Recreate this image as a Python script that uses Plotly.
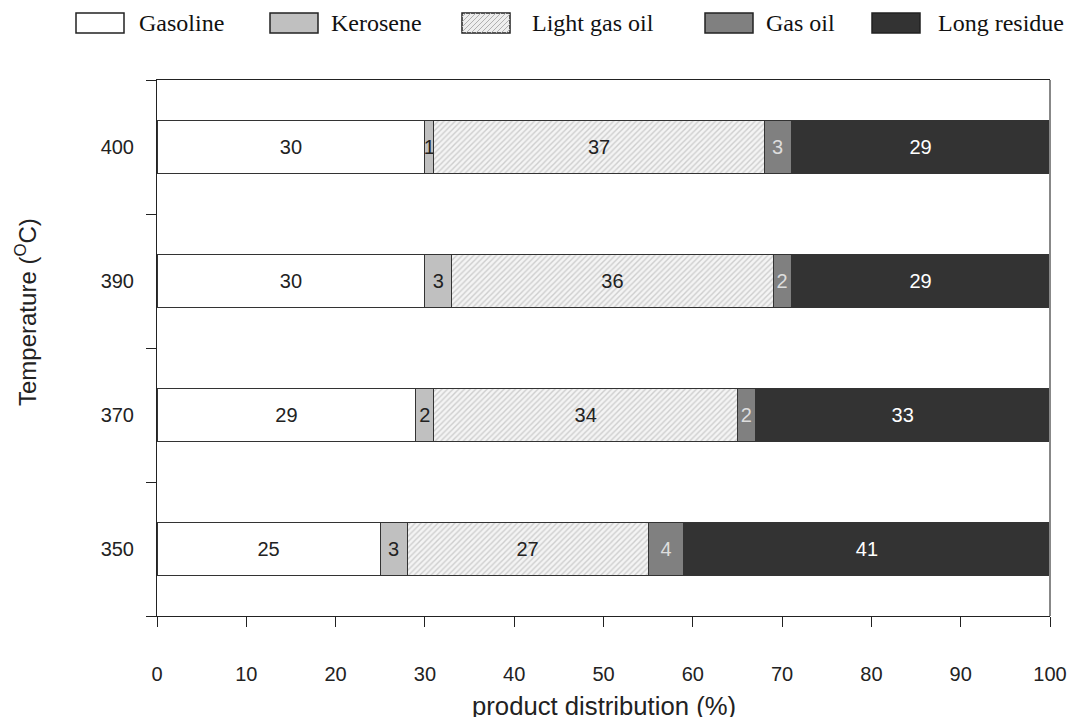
import plotly.graph_objects as go

temperatures = ["350", "370", "390", "400"]
products = ["Gasoline", "Kerosene", "Light gas oil", "Gas oil", "Long residue"]
gasoline = [25, 29, 30, 30]
kerosene = [3, 2, 3, 1]
light_gas_oil = [27, 34, 36, 37]
gas_oil = [4, 2, 2, 3]
long_residue = [41, 33, 29, 29]
x_ticks = [0, 10, 20, 30, 40, 50, 60, 70, 80, 90, 100]

series = [gasoline, kerosene, light_gas_oil, gas_oil, long_residue]
fills = ["#ffffff", "#c0c0c0", "#f2f2f2", "#808080", "#333333"]
text_colors = ["#222222", "#222222", "#222222", "#dddddd", "#ffffff"]

L, R, T, B = 157, 22, 80, 101
W, H = 1072, 717
PW, PH = W - L - R, H - T - B

def px(x):
    return (x - L) / PW

def py(y):
    return (T + PH - y) / PH

fig = go.Figure()
for name, vals, fc, tc in zip(products, series, fills, text_colors):
    marker = dict(color=fc, line=dict(color="#333333", width=1))
    if name == "Light gas oil":
        marker["pattern"] = dict(shape="/", fgcolor="#a8a8a8", bgcolor="#f4f4f4",
                                 size=4, solidity=0.35, fillmode="overlay")
    fig.add_trace(go.Bar(
        y=temperatures, x=vals, name=name, orientation="h",
        marker=marker, text=[str(v) for v in vals],
        textposition="inside", insidetextanchor="middle", textangle=0,
        constraintext="none",
        textfont=dict(family="Liberation Sans, Arial", size=20, color=tc),
        showlegend=False, hoverinfo="skip",
    ))

fig.update_layout(
    barmode="stack", bargap=0.6,
    width=W, height=H, autosize=False,
    margin=dict(l=L, r=R, t=T, b=B, pad=0, autoexpand=False),
    plot_bgcolor="white", paper_bgcolor="white",
    font=dict(family="Liberation Sans, Arial", color="#222222"),
)
fig.update_xaxes(
    range=[0, 100], tickvals=x_ticks, ticks="outside", ticklen=10,
    tickcolor="#222222", showline=True, linecolor="#222222", linewidth=1,
    mirror=True, showgrid=False, zeroline=False, automargin=False,
    tickfont=dict(size=20, color="#222222"), ticklabelstandoff=30,
)
fig.update_yaxes(
    categoryorder="array", categoryarray=temperatures,
    ticks="outside", ticklen=10, tickson="boundaries", tickcolor="#222222",
    showline=True, linecolor="#222222", linewidth=1, showgrid=False,
    automargin=False,
    tickfont=dict(size=20, color="#222222"), ticklabelstandoff=18,
)
# right border (grey)
fig.add_shape(type="line", xref="paper", yref="paper", x0=1, x1=1, y0=0, y1=1,
              line=dict(color="#888888", width=2))

# axis titles
fig.add_annotation(text="product distribution (%)", xref="paper", yref="paper",
                   x=0.5, y=py(706), showarrow=False, yanchor="middle",
                   font=dict(size=25.7, color="#222222"))
fig.add_annotation(text="Temperature (<sup>O</sup>C)", xref="paper", yref="paper",
                   x=px(26), y=py(312), showarrow=False, textangle=-90,
                   xanchor="center", yanchor="middle",
                   font=dict(size=24, color="#222222"))

# manual legend
box_x = [76, 270, 462, 705, 872]
txt_x = [137, 329, 530, 764, 936]
box_fill = ["#ffffff", "#c0c0c0", "#eeeeee", "#808080", "#333333"]
y0, y1 = 13, 33
for name, bx, tx, bf in zip(products, box_x, txt_x, box_fill):
    fig.add_shape(type="rect", xref="paper", yref="paper",
                  x0=px(bx), x1=px(bx + 48), y0=py(y1), y1=py(y0),
                  fillcolor=bf, line=dict(color="#222222", width=1.5), layer="above")
    if name == "Light gas oil":
        for k in range(-16, 48, 5):
            xa, xb = bx + k, bx + k + 20
            ya, yb = y1, y0
            if xa < bx:
                ya = y1 - (bx - xa); xa = bx
            if xb > bx + 48:
                yb = y0 + (xb - (bx + 48)); xb = bx + 48
            if xb > xa:
                fig.add_shape(type="line", xref="paper", yref="paper",
                              x0=px(xa), x1=px(xb), y0=py(ya), y1=py(yb),
                              line=dict(color="#b0b0b0", width=1), layer="above")
    fig.add_annotation(text=name, xref="paper", yref="paper", x=px(tx), y=py(23),
                       xanchor="left", yanchor="middle", showarrow=False,
                       font=dict(family="Liberation Serif, Times New Roman", size=24,
                                 color="#111111"))

fig.write_html("out.html", config={"displayModeBar": False},
               post_script="document.body.style.margin='0';")
